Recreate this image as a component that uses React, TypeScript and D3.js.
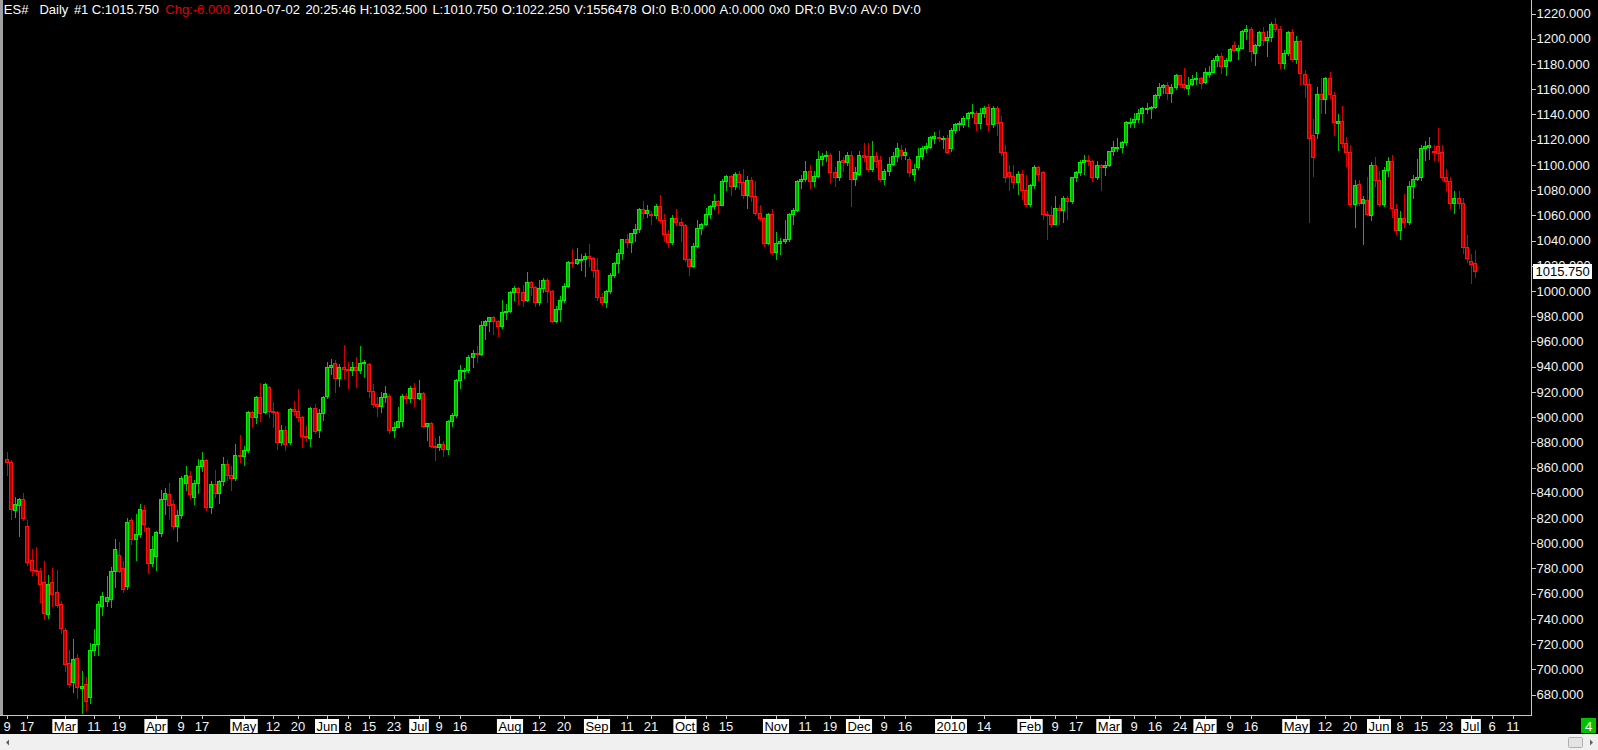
import React from "react";
import * as d3 from "d3";

const W = 1598;
const H = 750;

// Daily OHLC, ES# continuous, 2009-02-09 .. 2010-07-02 (one bar per session)
const opens = [
  867,864,826,830,835,814,787,779,778,769,
  744,769,761,752,731,705,690,709,685,688,
  678,715,720,750,754,756,778,791,780,766,
  818,803,807,826,812,784,790,808,835,839,
  831,814,822,848,853,837,848,861,866,829,
  847,840,849,863,854,852,870,869,874,904,
  900,916,904,924,905,904,880,890,880,906,
  905,900,885,883,907,890,903,917,940,943,
  931,940,938,937,940,937,943,942,921,910,
  909,916,917,890,892,897,917,915,923,915,
  919,893,895,877,876,879,875,897,902,929,
  937,937,948,951,950,973,976,979,976,972,
  983,984,999,1002,999,993,1007,1003,991,1002,
  1009,1000,976,986,993,1004,1023,1022,1025,1025,
  1028,1026,1017,995,991,1000,1013,1022,1030,1041,
  1039,1046,1049,1065,1062,1061,1060,1067,1056,1045,
  1039,1058,1055,1052,1025,1020,1036,1050,1053,1061,
  1067,1071,1068,1087,1091,1083,1093,1086,1076,1088,
  1075,1062,1058,1038,1061,1031,1038,1040,1041,1061,
  1064,1087,1089,1095,1087,1091,1105,1107,1108,1094,
  1090,1104,1102,1108,1089,1093,1108,1107,1097,1107,
  1104,1089,1095,1101,1107,1112,1108,1105,1093,1098,
  1107,1113,1114,1121,1122,1121,1121,1113,1128,1132,
  1132,1137,1141,1141,1133,1141,1146,1132,1145,1134,
  1110,1094,1091,1086,1093,1080,1069,1084,1098,1094,
  1061,1060,1053,1066,1064,1074,1071,1090,1094,1102,
  1104,1103,1090,1100,1098,1100,1111,1114,1114,1118,
  1134,1134,1136,1141,1145,1145,1146,1155,1162,1163,
  1157,1162,1171,1164,1161,1164,1168,1169,1166,1172,
  1174,1183,1186,1178,1183,1195,1191,1193,1206,1208,
  1189,1195,1205,1199,1201,1212,1208,1181,1189,1205,
  1184,1198,1172,1164,1124,1125,1156,1152,1169,1155,
  1133,1135,1117,1110,1069,1085,1070,1072,1060,1100,
  1088,1069,1096,1103,1065,1048,1058,1055,1083,1089,
  1090,1113,1114,1111,1115,1110,1090,1087,1070,1074,
  1070,1035,1024,1022.25,
];
const highs = [
  872,866,837,836,840,818,795,797,780,786,
  775,780,779,754,733,715,724,712,699,694,
  721,732,754,761,774,781,803,801,786,820,
  820,823,831,830,813,806,810,842,844,848,
  834,826,853,861,857,850,867,872,867,849,
  858,850,868,866,861,879,886,877,905,905,
  917,927,927,925,912,905,894,893,907,913,
  922,901,893,908,910,906,917,944,946,945,
  942,957,944,944,948,956,945,943,926,916,
  920,925,918,896,908,918,919,925,927,929,
  920,895,896,883,885,881,898,903,930,941,
  939,949,953,956,976,977,979,980,977,993,
  990,1000,1004,1003,1005,1015,1008,1004,1009,1010,
  1010,1001,988,996,1006,1024,1033,1034,1029,1030,
  1037,1027,1026,998,1001,1014,1023,1033,1041,1045,
  1046,1053,1066,1071,1068,1063,1069,1076,1061,1048,
  1060,1065,1058,1053,1026,1038,1056,1054,1066,1068,
  1077,1072,1089,1092,1092,1094,1095,1097,1091,1090,
  1087,1068,1059,1062,1065,1047,1042,1056,1062,1066,
  1088,1092,1103,1100,1095,1111,1109,1111,1109,1098,
  1111,1106,1110,1111,1098,1111,1117,1117,1119,1110,
  1107,1097,1106,1110,1117,1116,1113,1106,1101,1113,
  1115,1117,1123,1126,1128,1123,1124,1129,1133,1135,
  1139,1142,1148,1143,1145,1147,1148,1147,1147,1139,
  1116,1100,1100,1095,1096,1092,1085,1100,1099,1095,
  1063,1067,1075,1068,1075,1075,1090,1095,1104,1108,
  1108,1104,1103,1101,1103,1111,1119,1121,1119,1135,
  1137,1141,1144,1146,1149,1147,1156,1165,1164,1166,
  1164,1172,1171,1177,1170,1171,1174,1170,1177,1178,
  1185,1188,1189,1185,1193,1198,1195,1207,1211,1209,
  1196,1206,1209,1206,1213,1216.5,1210,1191,1206,1208,
  1202,1199,1175,1168,1136,1162,1169,1170,1174,1158,
  1140,1147,1122,1116,1088,1088,1075,1090,1102,1106,
  1095,1098,1106,1108,1069,1063,1077,1087,1092,1105,
  1116,1119,1122,1116,1129,1116,1097,1090,1079,1079,
  1074,1044,1029,1032.5,
];
const lows = [
  854,819,821,806,818,783,775,775,753,740,
  741,750,749,729,699,686,682,677,665,668,
  673,711,711,743,750,749,765,777,761,764,
  799,787,805,810,776,782,779,806,823,819,
  811,802,820,842,836,831,840,857,826,824,
  837,832,846,850,842,850,864,862,872,893,
  895,897,903,900,892,875,878,874,879,902,
  897,876,881,877,887,884,898,915,934,920,
  925,931,923,933,924,935,932,916,908,901,
  904,912,887,884,892,893,911,912,909,914,
  892,882,876,866,874,869,871,893,900,923,
  931,936,940,944,949,962,968,966,964,971,
  978,983,993,990,988,992,997,988,989,999,
  991,975,975,976,991,1003,1019,1021,1017,1012,
  1020,1011,993,989,987,998,1011,1015,1025,1035,
  1031,1040,1047,1058,1059,1053,1058,1055,1040,1035,
  1037,1052,1040,1024,1013,1019,1035,1045,1052,1058,
  1065,1062,1068,1080,1076,1081,1081,1074,1066,1071,
  1060,1056,1036,1037,1029,1025,1029,1038,1040,1053,
  1063,1082,1087,1082,1083,1090,1100,1103,1086,1083,
  1088,1095,1100,1067,1084,1092,1103,1095,1095,1098,
  1087,1085,1092,1100,1103,1105,1105,1091,1088,1097,
  1105,1110,1113,1117,1119,1113,1109,1111,1125,1128,
  1130,1131,1138,1128,1129,1138,1128,1130,1124,1108,
  1086,1080,1082,1077,1073,1067,1067,1082,1088,1057,
  1041,1051,1053,1053,1055,1057,1070,1087,1092,1093,
  1100,1087,1089,1080,1092,1099,1108,1111,1110,1116,
  1130,1130,1134,1134,1141,1137,1145,1153,1157,1152,
  1150,1160,1162,1160,1156,1163,1164,1161,1165,1170,
  1174,1178,1173,1171,1182,1190,1184,1193,1200,1182,
  1179,1194,1195,1186,1198,1206,1177,1177,1187,1182,
  1181,1164,1154,1055,1091,1121,1141,1141,1153,1124,
  1112,1114,1099,1067,1051,1068,1037,1060,1056,1083,
  1067,1067,1091,1059,1045,1041,1051,1053,1074,1088,
  1088,1104,1105,1104,1103,1088,1080,1066,1062,1066,
  1030,1023,1006,1010.75,
];
const closes = [
  864,827,831,835,820,785,779,778,768,745,
  768,760,751,733,704,688,708,686,687,675,
  715,720,752,758,757,778,795,778,764,817,
  803,807,827,815,784,795,809,835,840,830,
  814,822,852,854,839,848,861,866,829,847,
  840,849,863,854,852,870,869,874,904,900,
  916,903,926,905,904,880,890,879,906,905,
  900,885,884,907,889,903,916,940,941,931,
  940,938,937,940,937,943,944,921,910,909,
  916,919,890,892,897,917,915,923,915,919,
  893,895,877,876,879,875,897,902,929,937,
  937,948,951,950,973,976,979,976,972,983,
  984,999,1002,999,993,1007,1003,991,1002,1009,
  1000,976,986,993,1004,1023,1022,1025,1025,1028,
  1026,1017,995,991,1000,1013,1022,1030,1041,1039,
  1046,1049,1065,1062,1064,1060,1067,1056,1045,1039,
  1058,1055,1052,1025,1020,1036,1050,1053,1061,1067,
  1071,1068,1087,1091,1083,1093,1086,1076,1088,1075,
  1062,1058,1038,1061,1031,1038,1040,1041,1061,1064,
  1087,1089,1095,1087,1091,1105,1107,1108,1094,1090,
  1103,1102,1108,1089,1094,1108,1106,1097,1107,1103,
  1089,1095,1101,1107,1113,1108,1110,1094,1097,1107,
  1113,1115,1122,1123,1121,1121.5,1110,1128,1132,1133,
  1137,1141,1142,1133,1141,1145,1132,1145,1133,1110,
  1090,1091,1086,1093,1080,1069,1084,1098,1093,1061,
  1060,1053,1066,1064,1074,1071,1090,1094,1102,1104,
  1103,1090,1100,1098,1100,1111,1114,1114,1118,1134,
  1134,1136,1141,1145,1145,1146,1155,1162,1163,1157,
  1162,1171,1164,1162,1163,1168,1169,1165,1174,1174,
  1183,1186,1178,1183,1192,1191,1193,1206,1208,1190,
  1195,1205,1199,1201,1212,1208,1181,1189,1205,1184,
  1198,1173,1164,1121,1106,1156,1152,1169,1156,1134,
  1135,1117,1110,1069,1084,1070,1073,1061,1100,1088,
  1069,1096,1103,1066,1048,1058,1055,1083,1089,1090,
  1113,1115,1116,1110,1109,1090,1087,1070,1074,1070,
  1035,1026,1021.75,1015.75,
];

// Price axis ticks
const priceTicks = [
  680, 700, 720, 740, 760, 780, 800, 820, 840, 860, 880, 900, 920, 940, 960,
  980, 1000, 1020, 1040, 1060, 1080, 1100, 1120, 1140, 1160, 1180, 1200, 1220,
];
const lastPrice = 1015.75;

// Date axis labels: bar index -> text
const dateTickIdx = [
  0, 5, 14, 21, 27, 36, 42, 47, 57, 64, 70, 77, 82, 87, 93, 99, 104, 109, 121,
  128, 134, 142, 149, 155, 163, 168, 173, 185, 192, 198, 205, 211, 216, 227,
  235, 246, 252, 257, 265, 271, 276, 282, 288, 294, 299, 310, 317, 323, 330,
  335, 340, 346, 352, 357, 362,
];
const dateTickText = [
  "9", "17", "Mar", "11", "19", "Apr", "9", "17", "May", "12", "20", "Jun", "8",
  "15", "23", "Jul", "9", "16", "Aug", "12", "20", "Sep", "11", "21", "Oct",
  "8", "15", "Nov", "11", "19", "Dec", "9", "16", "2010", "14", "Feb", "9",
  "17", "Mar", "9", "16", "24", "Apr", "9", "16", "May", "12", "20", "Jun",
  "8", "15", "23", "Jul", "6", "11",
];
const boxedLabels = [
  "Jan", "Feb", "Mar", "Apr", "May", "Jun", "Jul", "Aug", "Sep", "Oct", "Nov",
  "Dec", "2010",
];

const FONT = "'Liberation Sans', Arial, Helvetica, sans-serif";

let measureCtx: CanvasRenderingContext2D | null = null;
function measure(t: string): number {
  try {
    if (!measureCtx) {
      const c = document.createElement("canvas");
      measureCtx = c.getContext("2d");
    }
    if (measureCtx) {
      measureCtx.font = `13px ${FONT}`;
      return measureCtx.measureText(t).width;
    }
  } catch (e) {}
  return t.length * 7;
}

export default function App() {
  const plotRight = 1531;
  const plotBottom = 715;

  const x = d3.scaleLinear().domain([0, 353]).range([6.66, 6.66 + 353 * 4.16]);
  const y = d3.scaleLinear().domain([680, 1220]).range([694.5, 13.5]);

  const candles = opens.map((o, i) => {
    const c = closes[i];
    const h = highs[i];
    const l = lows[i];
    const up = c >= o;
    const cx = Math.round(x(i));
    const top = Math.round(y(Math.max(o, c)));
    const bot = Math.round(y(Math.min(o, c)));
    return (
      <g key={i}>
        <line
          x1={cx + 0.5}
          x2={cx + 0.5}
          y1={Math.round(y(h))}
          y2={Math.round(y(l)) + 1}
          stroke={up ? "#00c000" : "#d00000"}
          strokeWidth={1}
        />
        <rect
          x={cx - 1.5}
          y={top + 0.5}
          width={3}
          height={Math.max(bot - top, 1)}
          fill={up ? "#00a800" : "#b00000"}
          stroke={up ? "#00f000" : "#ff1010"}
          strokeWidth={1}
        />
      </g>
    );
  });

  const header: { t: string; x: number; c?: string; ws?: number }[] = [
    { t: "ES#", x: 3.8 },
    { t: "Daily", x: 39.4 },
    { t: "#1", x: 73.9 },
    { t: "C:1015.750", x: 91.8 },
    { t: "Chg:-6.000", x: 165.3, c: "#e00000" },
    { t: "2010-07-02", x: 233.4 },
    { t: "20:25:46", x: 305.4 },
    { t: "H:1032.500", x: 359.7 },
    { t: "L:1010.750", x: 432.4 },
    { t: "O:1022.250 V:1556478 OI:0 B:0.000 A:0.000 0x0 DR:0 BV:0 AV:0 DV:0", x: 501.7, ws: 1.1 },
  ];

  const priceY = y(lastPrice);

  return (
    <svg
      width={W}
      height={H}
      style={{ position: "absolute", left: 0, top: 0, display: "block" }}
      fontFamily={FONT}
      fontSize={13}
    >
      <defs>
        <clipPath id="plot">
          <rect x={3} y={0} width={plotRight - 3} height={plotBottom} />
        </clipPath>
      </defs>
      <rect x={0} y={0} width={W} height={H} fill="#000" />

      {/* candles */}
      <g clipPath="url(#plot)">{candles}</g>

      {/* header */}
      <text y={14} fill="#ffffff">
        {header.map((h, i) => (
          <tspan key={i} x={h.x} fill={h.c || "#ffffff"} wordSpacing={h.ws || 0}>
            {h.t}
          </tspan>
        ))}
      </text>

      {/* left frame strip */}
      <rect x={0} y={0} width={3} height={plotBottom} fill="#a0a0a0" />

      {/* axes lines */}
      <line x1={plotRight + 0.5} x2={plotRight + 0.5} y1={0} y2={plotBottom + 1} stroke="#c8c8c8" />
      <line x1={0} x2={plotRight + 1} y1={plotBottom + 0.5} y2={plotBottom + 0.5} stroke="#c8c8c8" />

      {/* price axis */}
      {priceTicks.map((p) => (
        <g key={p}>
          <line
            x1={plotRight + 1}
            x2={plotRight + 5}
            y1={Math.round(y(p)) + 0.5}
            y2={Math.round(y(p)) + 0.5}
            stroke="#c8c8c8"
          />
          <text x={plotRight + 5.5} y={y(p) + 4.7} fill="#f4f4f4">
            {d3.format(".3f")(p)}
          </text>
        </g>
      ))}

      {/* last price marker */}
      <rect x={1533} y={Math.round(priceY) - 7} width={59} height={15} fill="#ffffff" />
      <text x={1535.5} y={priceY + 4.7} fill="#000000">
        {d3.format(".3f")(lastPrice)}
      </text>

      {/* date axis */}
      {dateTickIdx.map((idx, i) => {
        const t = dateTickText[i];
        const cx = Math.round(x(idx));
        const boxed = boxedLabels.includes(t);
        const w = measure(t);
        return (
          <g key={i}>
            <line
              x1={cx + 0.5}
              x2={cx + 0.5}
              y1={plotBottom + 1}
              y2={plotBottom + 4}
              stroke="#c8c8c8"
            />
            {boxed && (
              <rect x={cx - w / 2 - 1.5} y={719} width={w + 3} height={14} fill="#ffffff" />
            )}
            <text x={cx} y={731} textAnchor="middle" fill={boxed ? "#000000" : "#f4f4f4"}>
              {t}
            </text>
          </g>
        );
      })}

      {/* green counter box */}
      <rect x={1581} y={718} width={15} height={15} fill="#00c000" />
      <text x={1588.5} y={730.5} textAnchor="middle" fill="#ffffff">
        4
      </text>

      {/* scrollbar */}
      <rect x={0} y={734} width={W} height={16} fill="#f0f0f0" />
      <path d="M6,742.5 L9,739.5 L9,745.5 Z" fill="#606060" />
      <rect x={1568.5} y={737.5} width={14} height={10} rx={1} fill="#e4e4e4" stroke="#b0b0b0" />
      <path d="M1590,739.5 L1593,742.5 L1590,745.5 Z" fill="#606060" />
    </svg>
  );
}
